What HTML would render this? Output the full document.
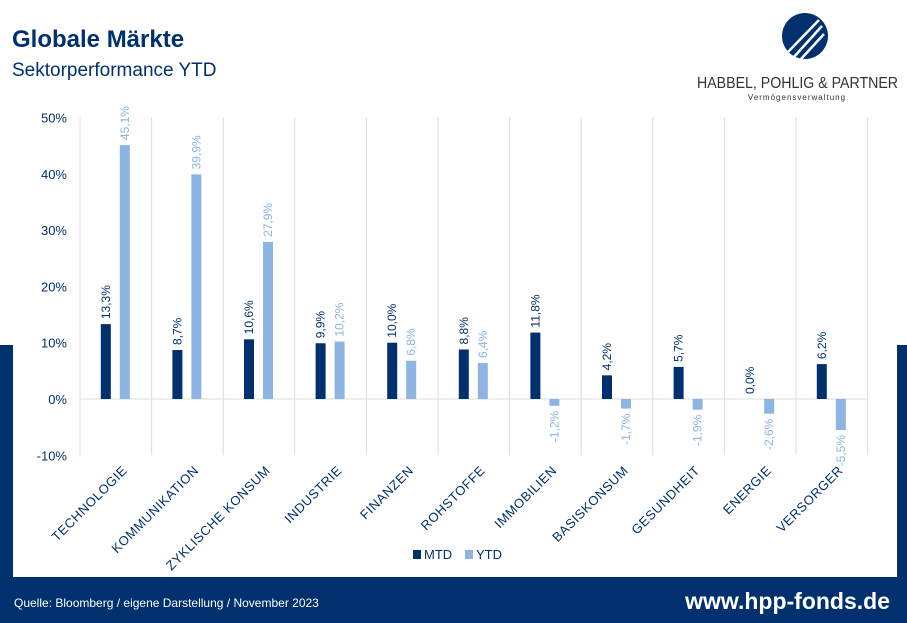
<!DOCTYPE html>
<html><head><meta charset="utf-8"><style>
body{margin:0;width:907px;height:623px;overflow:hidden;background:#fff;font-family:"Liberation Sans",sans-serif;position:relative}
.t1{position:absolute;left:12px;top:26px;font-size:24px;font-weight:bold;color:#00306e}
.t2{position:absolute;left:12px;top:60px;font-size:19px;color:#00306e}
</style></head><body>
<div class="t1">Globale Märkte</div>
<div class="t2">Sektorperformance YTD</div>
<svg width="907" height="623" style="position:absolute;left:0;top:0">
<g fill="#00306e">
<rect x="0" y="345" width="13" height="278"/><rect x="897" y="345" width="10" height="278"/><rect x="0" y="577" width="907" height="46"/>
</g>
<g>
<circle cx="805" cy="36" r="23" fill="#00306e"/>
<path d="M787 53 L819 20 M793 58 L822 26 M801 59 L824 34" stroke="#fff" stroke-width="2.5"/>
<text x="697" y="88" font-size="16" fill="#333" textLength="201" lengthAdjust="spacingAndGlyphs">HABBEL, POHLIG &amp; PARTNER</text>
<text x="797" y="100" text-anchor="middle" font-size="8" fill="#333" letter-spacing="1">Vermögensverwaltung</text>
</g>
<g id="plot"></g>
<text x="14" y="607" font-size="12" fill="#fff">Quelle: Bloomberg / eigene Darstellung / November 2023</text>
<text x="890" y="609" text-anchor="end" font-size="23" font-weight="bold" fill="#fff">www.hpp-fonds.de</text>
</svg>
<script>
const categories=["TECHNOLOGIE","KOMMUNIKATION","ZYKLISCHE KONSUM","INDUSTRIE","FINANZEN","ROHSTOFFE","IMMOBILIEN","BASISKONSUM","GESUNDHEIT","ENERGIE","VERSORGER"];
const mtd=[13.3,8.7,10.6,9.9,10.0,8.8,11.8,4.2,5.7,0.0,6.2];
const ytd=[45.1,39.9,27.9,10.2,6.8,6.4,-1.2,-1.7,-1.9,-2.6,-5.5];
const ticks=[50,40,30,20,10,0,-10];
const NS="http://www.w3.org/2000/svg",g=document.getElementById('plot');
const x0=80,cw=71.6,y=v=>399-v*5.63;
function mk(t,a,txt){const e=document.createElementNS(NS,t);for(const k in a)e.setAttribute(k,a[k]);if(txt!==undefined)e.textContent=txt;g.appendChild(e);return e;}
const fmt=v=>v.toFixed(1).replace('.',',')+'%';
ticks.forEach(t=>{const e=mk('text',{x:67,y:y(t)+5,'text-anchor':'end','font-size':13,fill:'#00306e'},t+'%');

});
for(let i=0;i<=categories.length;i++){const e=mk('line',{x1:x0+i*cw,x2:x0+i*cw,y1:117,y2:y(-10),stroke:'#ddd'});

}
const ax=mk('line',{x1:x0,x2:x0+11*cw,y1:y(0),y2:y(0),stroke:'#ddd'});


categories.forEach((c,i)=>{const cx=x0+i*cw+cw/2;
[[mtd[i],cx-10,'#00306e','#00306e','bar-mtd'],[ytd[i],cx+9,'#8db4e2','#8db4e2','bar-ytd']].forEach(([v,bx,col,tc,nm])=>{
const r=mk('rect',{x:bx-5,y:Math.min(y(v),y(0)),width:10,height:Math.abs(y(v)-y(0)),fill:col});


const ly=v>=0?y(v)-5:y(v)+5;
const t=mk('text',{x:0,y:0,'font-size':12,fill:tc,'text-anchor':v>=0?'start':'end',transform:`translate(${bx+4},${ly}) rotate(-90)`},fmt(v));

});
const l=mk('text',{x:0,y:0,'font-size':13,fill:'#00306e','text-anchor':'end','letter-spacing':'0.5',transform:`translate(${cx+12},${y(-10)+16}) rotate(-45)`},c);

});
[['MTD','#00306e',413],['YTD','#8db4e2',465]].forEach(([n,c,lx])=>{
const r=mk('rect',{x:lx,y:550,width:8,height:9,fill:c});


const t=mk('text',{x:lx+11,y:559,'font-size':13,fill:'#00306e'},n);

});
</script>
</body></html>
